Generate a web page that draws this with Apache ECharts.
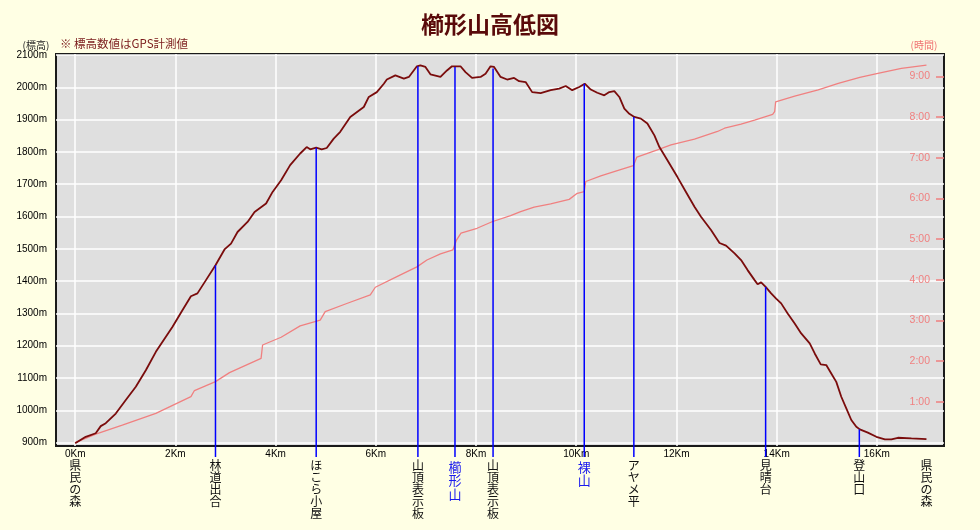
<!DOCTYPE html>
<html>
<head>
<meta charset="utf-8">
<script src="https://cdn.jsdelivr.net/npm/echarts@6/dist/echarts.min.js"></script>
<style>
html,body{margin:0;padding:0;background:#ffffe4;}
#chart{width:980px;height:530px;}
</style>
</head>
<body>
<div id="chart"></div>
<script>
// Elevation profile (distance km, elevation m)
const elevKm = [0,0.21,0.41,0.51,0.61,0.81,1.01,1.21,1.41,1.61,1.81,1.94,2.14,2.31,2.44,2.61,2.80,2.98,3.11,3.24,3.44,3.58,3.81,3.94,4.11,4.29,4.49,4.62,4.69,4.81,4.92,5.02,5.16,5.29,5.49,5.76,5.86,6.02,6.16,6.22,6.39,6.56,6.66,6.82,6.89,6.99,7.09,7.29,7.42,7.52,7.69,7.79,7.92,8.09,8.19,8.29,8.36,8.49,8.62,8.76,8.86,8.99,9.12,9.29,9.49,9.66,9.79,9.92,10.06,10.17,10.29,10.42,10.56,10.66,10.76,10.86,10.96,11.06,11.16,11.29,11.42,11.56,11.66,11.82,12.02,12.19,12.36,12.49,12.69,12.86,12.99,13.16,13.29,13.42,13.56,13.62,13.69,13.78,13.89,13.99,14.09,14.22,14.36,14.49,14.66,14.76,14.88,14.99,15.09,15.19,15.29,15.39,15.49,15.59,15.66,15.82,15.99,16.16,16.29,16.42,16.69,16.99];
const elevM = [898,918,929,951,960,990,1032,1073,1124,1181,1228,1258,1310,1353,1362,1403,1449,1498,1516,1552,1583,1614,1640,1676,1712,1759,1795,1815,1808,1813,1808,1812,1841,1862,1908,1939,1970,1985,2011,2024,2037,2027,2032,2065,2068,2063,2040,2032,2052,2065,2065,2047,2029,2032,2042,2065,2063,2032,2024,2029,2019,2016,1985,1982,1991,1996,2004,1991,2001,2011,1993,1983,1975,1985,1988,1970,1934,1918,1908,1903,1888,1851,1815,1774,1722,1676,1630,1599,1558,1518,1510,1486,1465,1434,1403,1390,1396,1382,1362,1346,1331,1300,1269,1238,1207,1176,1142,1140,1114,1088,1042,1006,970,949,941,931,918,910,910,915,913,911];

// Elapsed time (distance km, hours)
const timeKm = [0,0.41,0.94,1.61,2.31,2.38,2.80,3.08,3.71,3.74,4.11,4.49,4.89,4.99,5.42,5.89,5.99,6.42,6.82,7.02,7.29,7.54,7.61,7.70,8.02,8.32,8.69,8.89,9.16,9.49,9.86,10.02,10.16,10.19,10.49,10.82,11.14,11.21,11.62,11.89,12.36,12.82,12.96,13.29,13.56,13.92,13.96,13.98,14.36,14.83,15.23,15.66,16.02,16.49,16.99];
const timeH = [0,0.21,0.43,0.72,1.13,1.28,1.50,1.72,2.07,2.40,2.59,2.87,3.01,3.22,3.42,3.63,3.82,4.08,4.32,4.49,4.64,4.74,4.98,5.15,5.27,5.43,5.58,5.68,5.79,5.87,5.98,6.13,6.17,6.42,6.56,6.69,6.81,7.02,7.20,7.32,7.46,7.65,7.73,7.83,7.93,8.07,8.14,8.38,8.52,8.67,8.83,8.98,9.08,9.20,9.28];

// Waypoints
const waypointNames = ['県民の森','林道出合','ほこら小屋','山頂表示板','櫛形山','山頂表示板','裸山','アヤメ平','見晴台','登山口','県民の森'];
const waypointKm = [0,2.80,4.81,6.84,7.58,8.34,10.16,11.15,13.78,15.65,16.99];
const waypointElev = [898,1449,1813,2065,2063,2058,2011,1908,1382,941,911];
const peakNames = ['櫛形山','裸山'];

// Tick labels
const elevTicks = [900,1000,1100,1200,1300,1400,1500,1600,1700,1800,1900,2000,2100];
const timeTicks = [1,2,3,4,5,6,7,8,9];
const kmTicks = [0,2,4,6,8,10,12,14,16];

const elevData = elevKm.map((k,i)=>[k, elevM[i]]);
const timeData = timeKm.map((k,i)=>[k, timeH[i]]);
const wpData = waypointKm.map((k,i)=>[k, waypointElev[i], i]);
const lineData = wpData.slice(1, -1);

const chart = echarts.init(document.getElementById('chart'), null, {renderer:'canvas'});
const latin = "'Liberation Sans', Arial, sans-serif";
const cjk = "'Noto Sans CJK JP', sans-serif";

chart.setOption({
  backgroundColor: '#ffffe4',
  animation: false,
  grid: {
    left: 56, top: 54, width: 888, height: 392,
    show: true, backgroundColor: '#dfdfdf', borderColor: '#1a1a1a', borderWidth: 2,
    containLabel: false
  },
  graphic: [
    {type:'text', x:490, y:24, style:{text:'櫛形山高低図', font:"bold 23px "+cjk, fill:'#5a0a0a', align:'center', verticalAlign:'middle'}},
    {type:'text', x:60, y:44, style:{text:'※ 標高数値はGPS計測値', font:"11.5px "+cjk, fill:'#7a1a1a', align:'left', verticalAlign:'middle'}},
    {type:'text', x:36, y:45, style:{text:'(標高)', font:"10px "+cjk, fill:'#222', align:'center', verticalAlign:'middle'}},
    {type:'text', x:924, y:45, style:{text:'(時間)', font:"10px "+cjk, fill:'#f07070', align:'center', verticalAlign:'middle'}}
  ],
  xAxis: {
    type: 'value', min: -0.383, max: 17.34,
    axisLine: {show:false},
    axisTick: {show:false, customValues: kmTicks},
    axisLabel: {customValues: kmTicks, formatter: v => v + 'Km', fontSize: 10, fontFamily: latin, color: '#000', margin: 3},
    splitLine: {show:true, lineStyle:{color:'#ffffff', width:1.5}}
  },
  yAxis: [
    {
      type: 'value', min: 889.5, max: 2103,
      axisLine: {show:false},
      axisTick: {show:false, customValues: elevTicks},
      axisLabel: {customValues: elevTicks, formatter: v => v + 'm', fontSize: 10, fontFamily: latin, color: '#000', margin: 9},
      splitLine: {show:true, lineStyle:{color:'#ffffff', width:1.5}}
    },
    {
      type: 'value', position: 'right', min: -0.084, max: 9.555,
      axisLine: {show:false},
      axisTick: {show:true, inside:true, length:8, customValues: timeTicks, lineStyle:{color:'#f08080', width:1.5}},
      axisLabel: {inside:true, customValues: timeTicks, formatter: v => v + ':00', fontSize: 10.5, fontFamily: latin, color: '#f08080', margin: 14},
      splitLine: {show:false}
    }
  ],
  series: [
    {
      name: 'time', type: 'line', yAxisIndex: 1, data: timeData,
      showSymbol: false, symbol: 'none', lineStyle: {color:'#f08080', width:1.3}, z: 3
    },
    {
      name: 'elevation', type: 'line', yAxisIndex: 0, data: elevData,
      showSymbol: false, symbol: 'none', lineStyle: {color:'#7a0c0c', width:1.8}, z: 4
    },
    {
      name: 'markers', type: 'custom', data: lineData, clip: false, z: 5,
      renderItem: (params, api) => {
        const p = api.coord([api.value(0), api.value(1)]);
        const bottom = params.coordSys.y + params.coordSys.height + 11;
        return {type:'line', shape:{x1:p[0], y1:p[1], x2:p[0], y2:bottom},
          style:{stroke:'#0000ff', lineWidth:1.5}};
      }
    },
    {
      name: 'labels', type: 'custom', data: wpData, clip: false, z: 6,
      renderItem: (params, api) => {
        const idx = api.value(2);
        const name = waypointNames[idx];
        const isPeak = peakNames.indexOf(name) >= 0;
        const p = api.coord([api.value(0), api.value(1)]);
        const top = params.coordSys.y + params.coordSys.height + 14;
        return {type:'text', x:p[0], y:top,
          style:{text: name.split('').join('\n'), fill: isPeak ? '#1a1aee' : '#111',
            font: (isPeak ? '13px ' : '12px ') + cjk, lineHeight: isPeak ? 13.5 : 11.8,
            align:'center', verticalAlign:'top'}};
      }
    }
  ]
});
</script>
</body>
</html>
